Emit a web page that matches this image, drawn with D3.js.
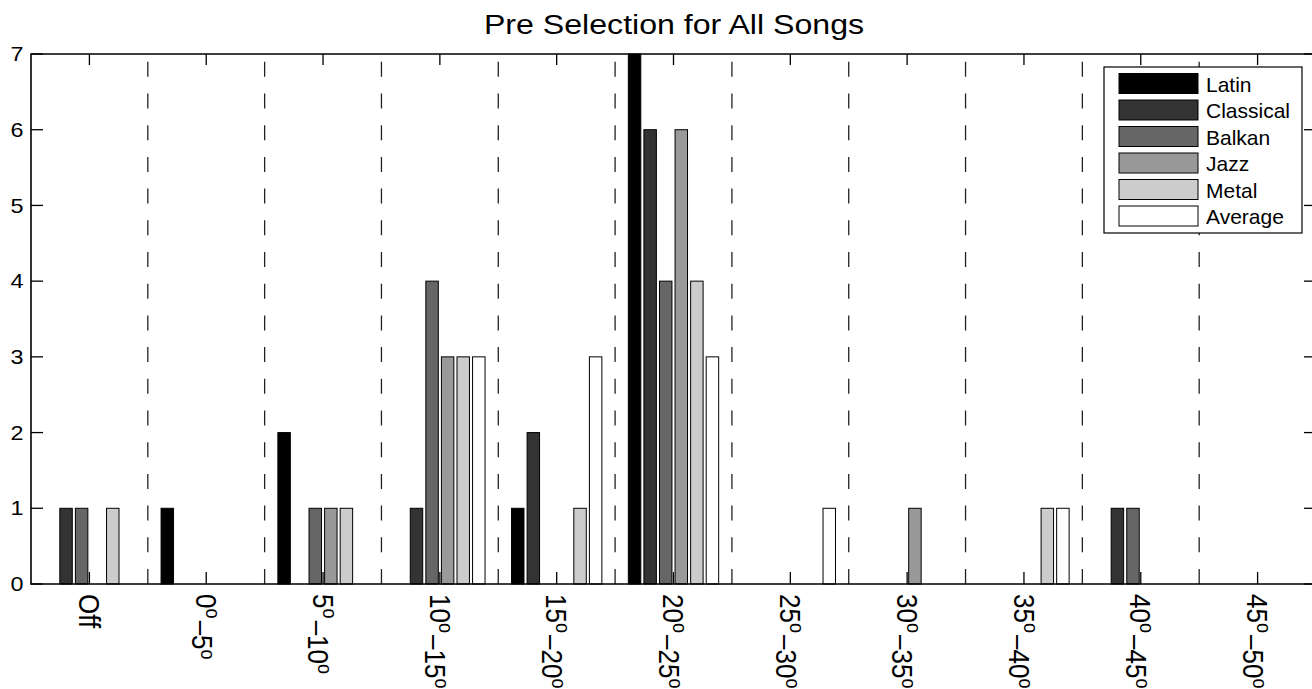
<!DOCTYPE html>
<html>
<head>
<meta charset="utf-8">
<script src="https://cdn.jsdelivr.net/npm/d3@7"></script>
<style>
  body { margin: 0; background: #fff; }
  text { font-family: "Liberation Sans", Arial, Helvetica, sans-serif; fill: #000; }
</style>
</head>
<body>
<div id="chart"></div>
<script>
// categories along the x axis (° is drawn as a superscript o)
var categories = ['Off', '0°–5°', '5°–10°', '10°–15°', '15°–20°', '20°–25°',
  '25°–30°', '30°–35°', '35°–40°', '40°–45°', '45°–50°']

var series = ['Latin', 'Classical', 'Balkan', 'Jazz', 'Metal', 'Average']
var colors = ['#000000', '#333333', '#666666', '#999999', '#cccccc', '#ffffff']

// counts per category, one array per series
var latin     = [0, 1, 2, 0, 1, 7, 0, 0, 0, 0, 0]
var classical = [1, 0, 0, 1, 2, 6, 0, 0, 0, 1, 0]
var balkan    = [1, 0, 1, 4, 0, 4, 0, 0, 0, 1, 0]
var jazz      = [0, 0, 1, 3, 0, 6, 0, 1, 0, 0, 0]
var metal     = [1, 0, 1, 3, 1, 4, 0, 0, 1, 0, 0]
var average   = [0, 0, 0, 3, 3, 3, 1, 0, 1, 0, 0]

var yTicks = [0, 1, 2, 3, 4, 5, 6, 7]

var values = [latin, classical, balkan, jazz, metal, average]

var width = 1312,
  height = 689,
  mLeft = 31,
  mRight = 1316,
  mTop = 54,
  mBottom = 584

var x = d3.scaleLinear().domain([-0.5, categories.length - 0.5]).range([mLeft, mRight])
var y = d3.scaleLinear().domain([0, 7]).range([mBottom, mTop])

// matlab style grouped bars: group width 0.8, bar width 0.8 of slot
var slot = 0.8 / series.length
var barW = slot * 0.8

var svg = d3
  .select('#chart')
  .append('svg')
  .attr('width', width)
  .attr('height', height)

// title (slightly wide, like the original)
svg
  .append('text')
  .attr('transform', 'translate(674,34) scale(1.19,1)')
  .attr('text-anchor', 'middle')
  .style('font-size', '27px')
  .text('Pre Selection for All Songs')

// dashed separators between categories
var seps = d3.range(0.5, categories.length - 1, 1)
svg
  .selectAll('line.sep')
  .data(seps)
  .enter()
  .append('line')
  .attr('class', 'sep')
  .attr('x1', d => x(d))
  .attr('x2', d => x(d))
  .attr('y1', y(0))
  .attr('y2', y(7))
  .attr('stroke', '#222')
  .attr('stroke-width', 1.3)
  .attr('stroke-dasharray', '15,16.7')

// bars
series.forEach(function(name, s) {
  svg
    .selectAll('rect.s' + s)
    .data(values[s].map((v, i) => ({ i: i, v: v })).filter(d => d.v > 0))
    .enter()
    .append('rect')
    .attr('class', 's' + s)
    .attr('x', d => x(d.i - 0.4 + slot * (s + 0.5) - barW / 2))
    .attr('width', x(barW) - x(0))
    .attr('y', d => y(d.v))
    .attr('height', d => y(0) - y(d.v))
    .attr('fill', colors[s])
    .attr('stroke', '#000')
    .attr('stroke-width', 1)
})

// axes box
var g = svg.append('g').attr('stroke', '#000').attr('fill', 'none')
g.append('path')
  .attr('d', 'M' + mLeft + ',' + mTop + 'H' + mRight + 'V' + mBottom + 'H' + mLeft + 'Z')
  .attr('stroke-width', 1.6)

// ticks pointing inward
var cats = d3.range(categories.length)
g.selectAll('line.xb').data(cats).enter().append('line')
  .attr('x1', d => x(d)).attr('x2', d => x(d))
  .attr('y1', mBottom).attr('y2', mBottom - 12)
  .attr('stroke-width', 1.3)
g.selectAll('line.xt').data(cats).enter().append('line')
  .attr('x1', d => x(d)).attr('x2', d => x(d))
  .attr('y1', mTop).attr('y2', mTop + 11)
  .attr('stroke-width', 1.3)
g.selectAll('line.yl').data(yTicks).enter().append('line')
  .attr('x1', mLeft).attr('x2', mLeft + 12)
  .attr('y1', d => y(d)).attr('y2', d => y(d))
  .attr('stroke-width', 1.3)
g.selectAll('line.yr').data(yTicks).enter().append('line')
  .attr('x1', mRight).attr('x2', mRight - 12)
  .attr('y1', d => y(d)).attr('y2', d => y(d))
  .attr('stroke-width', 1.3)

// y tick labels
svg
  .selectAll('text.yt')
  .data(yTicks)
  .enter()
  .append('text')
  .attr('transform', d => 'translate(23.5,' + y(d) + ') scale(1.17,1)')
  .attr('dy', '0.36em')
  .attr('text-anchor', 'end')
  .style('font-size', '20px')
  .text(d => d)

// x tick labels, rotated, with superscript o for degrees
svg
  .selectAll('text.xt')
  .data(categories)
  .enter()
  .append('text')
  .attr('transform', (d, i) => 'translate(' + x(i) + ',' + 594 + ') scale(1.1,1) rotate(90)')
  .attr('dy', '0.36em')
  .style('font-size', '26px')
  .each(function(d) {
    var el = d3.select(this)
    var parts = d.split('°')
    parts.forEach(function(p, k) {
      if (p) el.append('tspan').text(p)
      if (k < parts.length - 1) {
        el.append('tspan').attr('dy', '-0.5em').style('font-size', '18px').text('o')
        el.append('tspan').attr('dy', '0.5em').text('\u200a')
      }
    })
  })

// legend
var lg = svg.append('g').attr('transform', 'translate(1104,67)')
lg.append('rect')
  .attr('width', 198)
  .attr('height', 166)
  .attr('fill', '#fff')
  .attr('stroke', '#000')
  .attr('stroke-width', 1.2)
var rows = lg
  .selectAll('g.row')
  .data(series)
  .enter()
  .append('g')
  .attr('transform', (d, i) => 'translate(0,' + (16.5 + i * 26.5) + ')')
rows
  .append('rect')
  .attr('x', 15)
  .attr('y', -10)
  .attr('width', 79)
  .attr('height', 20)
  .attr('fill', (d, i) => colors[i])
  .attr('stroke', '#000')
  .attr('stroke-width', 1)
rows
  .append('text')
  .attr('x', 102)
  .attr('y', 8)
  .style('font-size', '21px')
  .text(d => d)
</script>
</body>
</html>
